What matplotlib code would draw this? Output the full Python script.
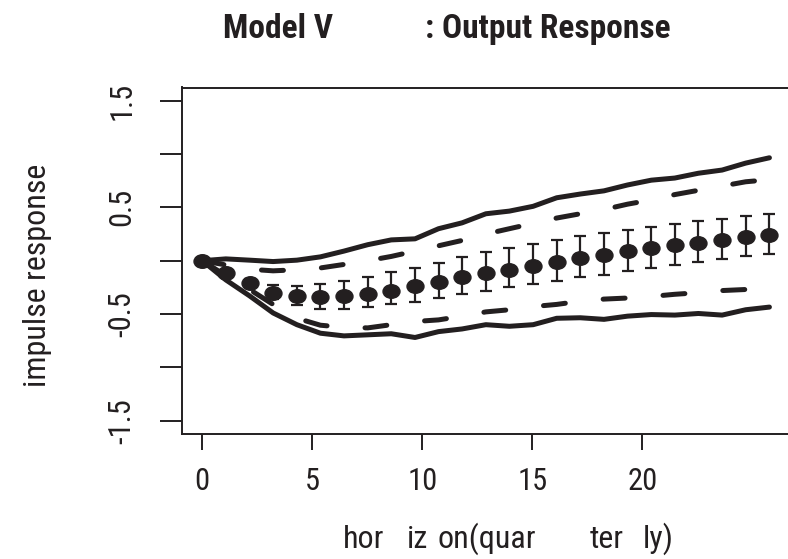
import matplotlib
matplotlib.use("Agg")
import matplotlib.pyplot as plt
from matplotlib.path import Path
from matplotlib.transforms import Affine2D
import numpy as np

# ---------------- data ----------------
horizon_pos = [0.00, 1.07, 2.15, 3.22, 4.30, 5.37, 6.44, 7.52, 8.59, 9.67,
               10.74, 11.81, 12.89, 13.96, 15.04, 16.11, 17.18, 18.26, 19.33,
               20.41, 21.48, 22.55, 23.63, 24.70, 25.78]
point_est = [0.0, -0.12, -0.21, -0.30, -0.33, -0.34, -0.33, -0.31, -0.28, -0.235,
             -0.20, -0.15, -0.12, -0.083, -0.048, -0.011, 0.026, 0.058, 0.089,
             0.12, 0.145, 0.17, 0.198, 0.22, 0.238]
err_upper = [0.0, -0.10, -0.17, -0.23, -0.235, -0.22, -0.19, -0.154, -0.11, -0.064,
             -0.017, 0.03, 0.077, 0.12, 0.157, 0.198, 0.232, 0.264, 0.29, 0.32,
             0.348, 0.37, 0.394, 0.416, 0.437]
err_lower = [0.0, -0.14, -0.25, -0.36, -0.42, -0.45, -0.45, -0.43, -0.41, -0.385,
             -0.35, -0.316, -0.285, -0.25, -0.22, -0.19, -0.154, -0.13, -0.098,
             -0.064, -0.042, -0.01, 0.014, 0.042, 0.064]
band_upper_solid = [0.0, 0.017, 0.005, -0.008, 0.005, 0.036, 0.09, 0.15, 0.195, 0.205,
                    0.30, 0.355, 0.44, 0.465, 0.51, 0.59, 0.625, 0.655, 0.71, 0.755,
                    0.775, 0.82, 0.85, 0.915, 0.965]
band_lower_solid = [0.0, -0.18, -0.33, -0.49, -0.60, -0.68, -0.705, -0.695, -0.685, -0.72,
                    -0.665, -0.64, -0.60, -0.615, -0.60, -0.54, -0.535, -0.55, -0.52,
                    -0.505, -0.51, -0.495, -0.51, -0.46, -0.435]
band_upper_dash = [0.0, -0.04, -0.08, -0.095, -0.085, -0.068, -0.035, 0.0, 0.04, 0.09,
                   0.14, 0.19, 0.25, 0.30, 0.35, 0.40, 0.44, 0.48, 0.53, 0.57,
                   0.62, 0.66, 0.70, 0.74, 0.76]
band_lower_dash = [0.0, -0.14, -0.27, -0.41, -0.54, -0.605, -0.625, -0.63, -0.60, -0.57,
                   -0.555, -0.52, -0.48, -0.46, -0.43, -0.41, -0.38, -0.36, -0.35,
                   -0.335, -0.315, -0.30, -0.28, -0.27, -0.255]
xticks = [0, 5, 10, 15, 20]
xtick_labels = ["0", "5", "10", "15", "20"]
yticks = [-1.5, -1.0, -0.5, 0.0, 0.5, 1.0, 1.5]
ytick_labels = ["-1.5", "", "-0.5", "", "0.5", "", "1.5"]
title_parts = ["Model V", ": Output Response"]
xlabel_parts = ["hor", "iz", "on(quar", "ter", "ly)"]
ylabel = "impulse response"

# ---------------- style ----------------
INK = "#231f20"
FONT = ["Roboto Condensed", "Liberation Sans", "DejaVu Sans"]
plt.rcParams["font.family"] = FONT
plt.rcParams["lines.scale_dashes"] = False

W, H = 788, 559
fig = plt.figure(figsize=(W / 100, H / 100), dpi=100)
fig.patch.set_facecolor("white")

ax_l, ax_r, ax_t, ax_b = 181.7, 800.0, 87.5, 434.0
ax = fig.add_axes([ax_l / W, 1 - ax_b / H, (ax_r - ax_l) / W, (ax_b - ax_t) / H])
ax.set_xlim(-0.936, 27.17)
ax.set_ylim(-1.625, 1.624)

lw_band = 3.6
ax.plot(horizon_pos, band_upper_solid, color=INK, lw=lw_band,
        solid_capstyle="round", solid_joinstyle="round", zorder=2)
ax.plot(horizon_pos, band_lower_solid, color=INK, lw=lw_band,
        solid_capstyle="round", solid_joinstyle="round", zorder=2)
for series in (band_upper_dash, band_lower_dash):
    ax.plot(horizon_pos, series, color=INK, lw=lw_band,
            linestyle=(0, (15.8, 27.4)), dash_capstyle="round",
            dash_joinstyle="round", zorder=2)

circ = Path.unit_circle()
ell = Path(Affine2D().scale(1.0, 0.8).transform(circ.vertices), circ.codes)

est = np.array(point_est)
yerr = np.vstack([est - np.array(err_lower), np.array(err_upper) - est])
ax.errorbar(horizon_pos, point_est, yerr=yerr, fmt="none", ecolor=INK,
            elinewidth=1.6, capsize=4.3, capthick=1.6, zorder=3)
ax.plot(horizon_pos, point_est, linestyle="none", marker=ell, markersize=12.2,
        color=INK, zorder=4)

for s in ax.spines.values():
    s.set_linewidth(1.4)
    s.set_color(INK)

ax.set_xticks(xticks)
ax.set_xticklabels(xtick_labels)
ax.set_yticks(yticks)
ax.set_yticklabels(ytick_labels, rotation=90, va="center")
ax.tick_params(axis="x", length=11.5, width=1.4, pad=12, labelsize=22, colors=INK)
ax.tick_params(axis="y", length=15.8, width=1.4, pad=16.6, labelsize=22, colors=INK)

fig.text(223 / W, 1 - 38.3 / H, title_parts[0], fontsize=24, fontweight="bold",
         ha="left", va="baseline", color=INK)
fig.text(425 / W, 1 - 38.3 / H, title_parts[1], fontsize=24, fontweight="bold",
         ha="left", va="baseline", color=INK)

for txt, xl in zip(xlabel_parts, [343, 407, 438, 590, 643]):
    fig.text(xl / W, 1 - 548 / H, txt, fontsize=23, ha="left", va="baseline", color=INK)

fig.text(38 / W, 1 - 275 / H, ylabel, fontsize=23, rotation=90, ha="center",
         va="center", color=INK)

fig.savefig("out.png", dpi=100)
